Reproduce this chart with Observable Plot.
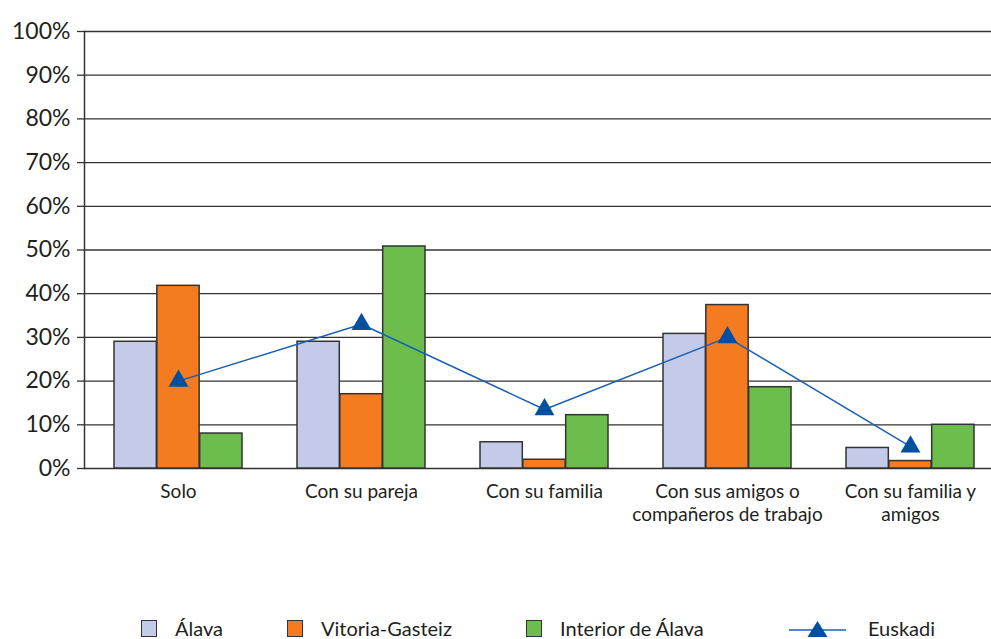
<!DOCTYPE html>
<html>
<head>
<meta charset="utf-8">
<script src="https://cdn.jsdelivr.net/npm/d3@7"></script>
<script src="https://cdn.jsdelivr.net/npm/@observablehq/plot@0.6"></script>
<style>
  html, body { margin: 0; padding: 0; background: #fff; overflow: hidden; }
  body { width: 991px; height: 639px; position: relative; font-family: "Lato", "DejaVu Sans", sans-serif; color: #231f20; }
  #legend { position: absolute; left: 0; top: 0; width: 991px; height: 639px; pointer-events: none; }
  .item { position: absolute; top: 618px; height: 20px; display: flex; align-items: center; font-size: 20px; line-height: 20px; }
  .sw { width: 14px; height: 15px; border: 1.5px solid #333; margin-right: 18px; }
</style>
</head>
<body>
<div id="chart"></div>
<div id="legend"></div>
<script>
const categories = ["Solo", "Con su pareja", "Con su familia", "Con sus amigos o compañeros de trabajo", "Con su familia y amigos"];
const tickLabels = ["Solo", "Con su pareja", "Con su familia", "Con sus amigos o\ncompañeros de trabajo", "Con su familia y\namigos"];
const series = ["Álava", "Vitoria-Gasteiz", "Interior de Álava"];
const seriesColors = ["#c3cbe8", "#f47b20", "#6cbd4b"];
const alava = [29, 29, 6, 30.8, 4.7];
const vitoria = [41.8, 17, 2, 37.4, 1.7];
const interior = [8, 50.8, 12.2, 18.6, 10];
const euskadiLabel = "Euskadi";
const euskadi = [20, 33, 13.5, 30, 5];
const yTicks = [0, 10, 20, 30, 40, 50, 60, 70, 80, 90, 100];

const values = [alava, vitoria, interior];
const bars = [];
series.forEach((s, si) => categories.forEach((c, ci) => bars.push({cat: c, series: s, si, v: values[si][ci]})));
const line = categories.map((c, i) => ({cat: c, v: euskadi[i]}));
const labelOf = new Map(categories.map((c, i) => [c, tickLabels[i]]));

const W = 991, H = 600;
const xRange = [85, 1003];
const pIn = 0.3, pOut = 0.15;
const step = (xRange[1] - xRange[0]) / (categories.length - pIn + 2 * pOut);
const bw = step * (1 - pIn);
const sub = bw / 3;

const marks = [
  Plot.gridY(yTicks, {stroke: "#333", strokeOpacity: 1, strokeWidth: 1.3}),
  Plot.axisY(yTicks, {tickSize: 7, tickPadding: 7, stroke: "#333", strokeWidth: 1.3, fontSize: 23, tickFormat: d => d + "%", label: null}),
  Plot.axisX({tickSize: 0, tickPadding: 14, fontSize: 19, lineHeight: 1.18, tickFormat: d => labelOf.get(d), label: null}),
];
series.forEach((s, si) => {
  marks.push(Plot.barY(bars.filter(b => b.si === si), {
    x: "cat", y: "v", fill: seriesColors[si], stroke: "#333", strokeWidth: 1.5,
    insetLeft: si * sub, insetRight: (2 - si) * sub
  }));
});
marks.push(
  Plot.frame({anchor: "left", stroke: "#333", strokeWidth: 1.5}),
  Plot.lineY(line, {x: "cat", y: "v", stroke: "#1a5fb4", strokeWidth: 1.5}),
  Plot.dot(line, {x: "cat", y: "v", symbol: "triangle", r: 7.4, fill: "#0050a0", stroke: "none"})
);

const chart = Plot.plot({
  width: W, height: H,
  marginLeft: 84, marginRight: 0, marginTop: 31, marginBottom: 132,
  style: {fontFamily: "Lato, 'DejaVu Sans', sans-serif", color: "#231f20", background: "#fff", overflow: "visible"},
  x: {domain: categories, range: xRange, paddingInner: pIn, paddingOuter: pOut},
  y: {domain: [0, 100], range: [468, 31]},
  marks
});
document.getElementById("chart").appendChild(chart);

// Legend
const legend = document.getElementById("legend");
const lefts = [141, 287, 526];
series.forEach((s, i) => {
  const it = document.createElement("div");
  it.className = "item";
  it.style.left = lefts[i] + "px";
  const sw = document.createElement("div");
  sw.className = "sw";
  sw.style.background = seriesColors[i];
  it.appendChild(sw);
  const t = document.createElement("span");
  t.textContent = s;
  it.appendChild(t);
  legend.appendChild(it);
});
const eit = document.createElement("div");
eit.className = "item";
eit.style.left = "789px";
eit.innerHTML = '<svg width="57" height="20" style="margin-right:22px"><line x1="0" y1="12" x2="57" y2="12" stroke="#1a5fb4" stroke-width="1.5"/><path d="M28.5,3 L38.5,19 L18.5,19 Z" fill="#0050a0"/></svg>';
const et = document.createElement("span");
et.textContent = euskadiLabel;
eit.appendChild(et);
legend.appendChild(eit);
</script>
</body>
</html>
